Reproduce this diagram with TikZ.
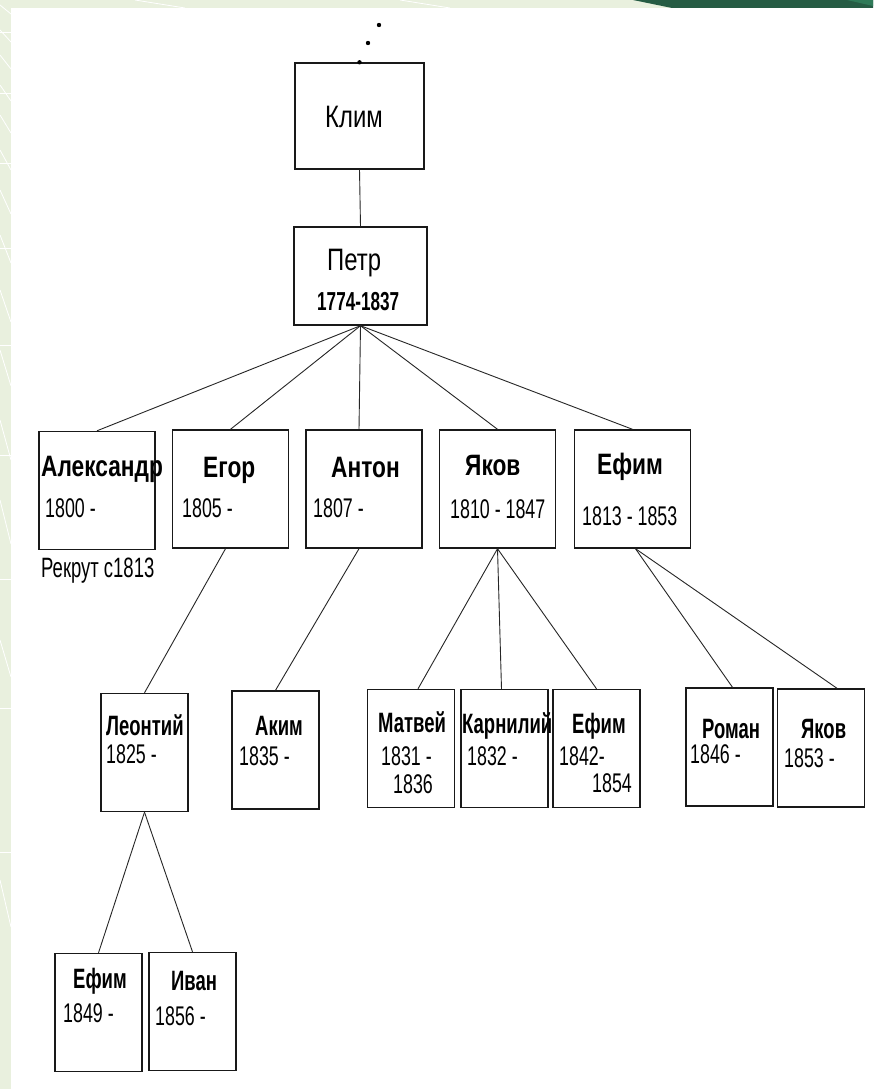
\documentclass[tikz,border=0pt]{standalone}
\usepackage{fontspec}
\setmainfont{Liberation Sans}
\newfontfamily\wideF[FakeStretch=0.77]{Liberation Sans}
\newfontfamily\narrowF[FakeStretch=0.66]{Liberation Sans}

\definecolor{paleGreen}{RGB}{233,240,222}
\definecolor{deepGreen}{RGB}{38,92,68}
\definecolor{midGreen}{RGB}{47,122,88}

\tikzset{
  person/.style={draw=black!90, line width=1.4pt, inner sep=0pt},
  topbox/.style={person, minimum width=116pt, minimum height=118pt},
  kidbox/.style={person, minimum width=87pt, minimum height=118pt},
  link/.style={draw=black!85, line width=0.9pt},
  txt/.style={inner sep=0pt, anchor=base west},
  bigname/.style={txt, font=\wideF\fontsize{31}{31}\selectfont},
  topname/.style={txt, font=\wideF\bfseries\fontsize{29.5}{29.5}\selectfont},
  kidname/.style={txt, font=\narrowF\bfseries\fontsize{28}{28}\selectfont},
  years/.style={txt, font=\narrowF\fontsize{27}{27}\selectfont}
}

\begin{document}
\begin{tikzpicture}[x=1pt, y=-1pt]
  \useasboundingbox (0,0) rectangle (873,1089);

  % slide background
  \fill[white] (0,0) rectangle (873,1089);
  \fill[paleGreen] (0,0) rectangle (11,1089);
  \fill[paleGreen] (0,0) rectangle (873,8);
  \fill[deepGreen] (633,0) -- (873,0) -- (873,8) -- (672,8) -- cycle;
  \fill[midGreen] (847,0) -- (873,0) -- (873,6) -- cycle;
  \foreach \y/\d in {5/9, 30/12, 55/14, 85/16, 115/18, 150/20, 190/24, 235/28, 290/32, 350/36, 420/40, 500/44, 640/37, 880/47}
    \draw[white, line width=0.8pt] (0,\y) -- (11,\y+\d);
  \foreach \y in {32, 93, 163, 248, 345, 455, 579, 708, 852}
    \draw[white, line width=0.8pt] (0,\y) -- (11,\y);
  \draw[white, line width=0.8pt] (135,0) -- (185,8);
  \draw[white, line width=0.8pt] (400,0) -- (450,8);

  % boxes
  \node[person, minimum width=129pt, minimum height=106pt] (klim) at (359.5,116) {};
  \node[person, minimum width=133pt, minimum height=98pt] (petr) at (360.5,276) {};

  \node[topbox] (alex) at (97,490.5) {};
  \node[topbox] (egor) at (230.5,489) {};
  \node[topbox] (anton) at (364,489) {};
  \node[topbox] (yakov) at (497.5,489) {};
  \node[topbox] (efim) at (632.5,489) {};

  \node[kidbox] (leontiy) at (144.5,752.5) {};
  \node[kidbox] (akim) at (275.5,750) {};
  \node[kidbox] (matvey) at (411,748.5) {};
  \node[kidbox] (karniliy) at (504.5,748.5) {};
  \node[kidbox] (efimjr) at (596.5,748.5) {};
  \node[kidbox] (roman) at (729.5,747) {};
  \node[kidbox] (yakovjr) at (821,748) {};

  \node[kidbox] (efimgr) at (98.5,1012.5) {};
  \node[kidbox] (ivan) at (192.5,1011.5) {};

  % dots above Klim
  \fill (klim.north) circle (2.2pt);
  \fill (368,43) circle (2.2pt);
  \fill (379,25) circle (2.2pt);

  % connectors
  \draw[link] (klim.south) -- (petr.north);
  \draw[link] (petr.south) -- (alex.north);
  \draw[link] (petr.south) -- (egor.north);
  \draw[link] (petr.south) -- ([xshift=-5pt]anton.north);
  \draw[link] (petr.south) -- (yakov.north);
  \draw[link] (petr.south) -- (efim.north);

  \draw[link] ([xshift=-5pt]egor.south) -- (leontiy.north);
  \draw[link] ([xshift=-5pt]anton.south) -- (akim.north);
  \draw[link] (yakov.south) -- ([xshift=7pt]matvey.north);
  \draw[link] (yakov.south) -- ([xshift=-3pt]karniliy.north);
  \draw[link] (yakov.south) -- (efimjr.north);
  \draw[link] ([xshift=3pt]efim.south) -- ([xshift=3pt]roman.north);
  \draw[link] ([xshift=3pt]efim.south) -- ([xshift=16pt]yakovjr.north);

  \draw[link] (leontiy.south) -- (efimgr.north);
  \draw[link] (leontiy.south) -- (ivan.north);

  % texts
  \node[bigname] (tklim) at (325,128) {Клим};
  \node[bigname] (tpetr) at (327,270) {Петр};
  \node[txt, font=\narrowF\bfseries\fontsize{26}{26}\selectfont] (ypetr) at (317,310) {1774-1837};

  \node[topname] (talex) at (41,476) {Александр};
  \node[topname] (tegor) at (203,477) {Егор};
  \node[topname] (tanton) at (331,477) {Антон};
  \node[topname] (tyakov) at (465,475) {Яков};
  \node[topname] (tefim) at (597,474) {Ефим};

  \node[years] (yalex) at (45,517) {1800 -};
  \node[years] (yegor) at (182,517) {1805 -};
  \node[years] (yanton) at (313,517) {1807 -};
  \node[years] (yyakov) at (450,518) {1810 - 1847};
  \node[years] (yefim) at (582,525) {1813 - 1853};
  \node[txt, font=\narrowF\fontsize{28}{28}\selectfont] (rekrut) at (41,577) {Рекрут с1813};

  \node[kidname] (tleontiy) at (106,735) {Леонтий};
  \node[kidname] (takim) at (255,735) {Аким};
  \node[kidname] (tmatvey) at (378,732) {Матвей};
  \node[kidname] (tkarniliy) at (462,733) {Карнилий};
  \node[kidname] (tefimjr) at (572,733) {Ефим};
  \node[kidname] (troman) at (702,738) {Роман};
  \node[kidname] (tyakovjr) at (801,738) {Яков};

  \node[years] (yleontiy) at (106,763) {1825 -};
  \node[years] (yakim) at (239,765) {1835 -};
  \node[years] (ymatvey) at (381,765) {1831 -};
  \node[years] (ymatvey2) at (393,793) {1836};
  \node[years] (ykarniliy) at (467,765) {1832 -};
  \node[years] (yefimjr) at (559,765) {1842-};
  \node[years] (yefimjr2) at (592,792) {1854};
  \node[years] (yroman) at (690,763) {1846 -};
  \node[years] (yyakovjr) at (784,767) {1853 -};

  \node[kidname] (tefimgr) at (73,988) {Ефим};
  \node[kidname] (tivan) at (171,990) {Иван};
  \node[years] (yefimgr) at (63,1022) {1849 -};
  \node[years] (yivan) at (155,1025) {1856 -};
\end{tikzpicture}
\end{document}
